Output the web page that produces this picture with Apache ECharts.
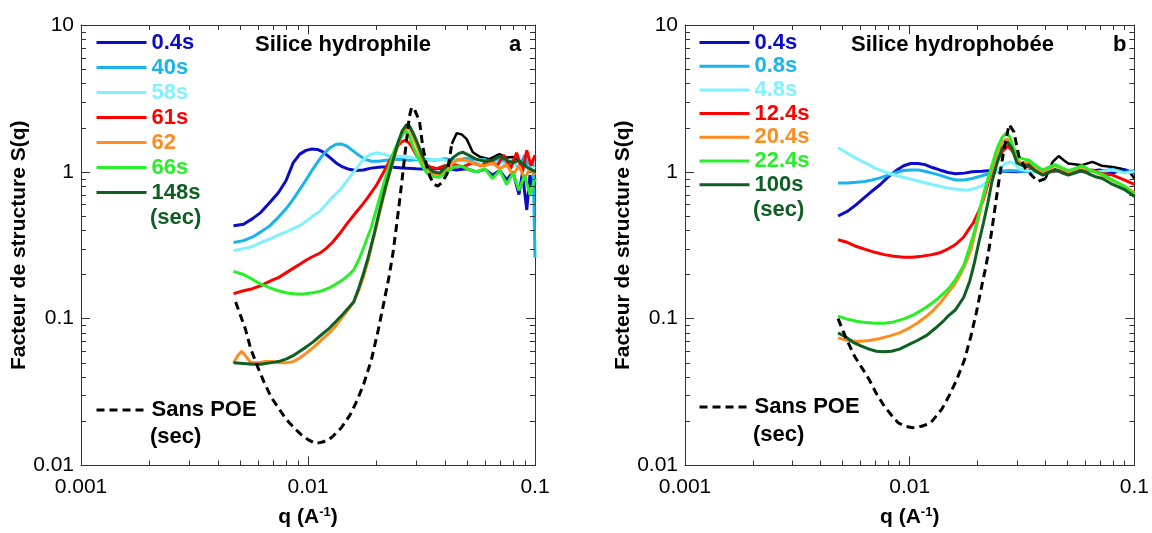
<!DOCTYPE html>
<html>
<head>
<meta charset="utf-8">
<script src="https://cdn.jsdelivr.net/npm/echarts@6/dist/echarts.min.js"></script>
<style>
html,body{margin:0;padding:0;background:#fff;}
#chart{width:1152px;height:533px;}
</style>
</head>
<body>
<div id="chart"></div>
<script>
// ---------------- DATA ----------------
const xTickLabels = ['0.001', '0.01', '0.1'];
const yTickLabels = ['0.01', '0.1', '1', '10'];
const xMinorTicks = [0.002,0.003,0.004,0.005,0.006,0.007,0.008,0.009,0.02,0.03,0.04,0.05,0.06,0.07,0.08,0.09];
const yMinorTicks = [0.02,0.03,0.04,0.05,0.06,0.07,0.08,0.09,0.2,0.3,0.4,0.5,0.6,0.7,0.8,0.9,2,3,4,5,6,7,8,9];

const leftNames = ['0.4s', '40s', '58s', '61s', '62', '66s', '148s'];
const rightNames = ['0.4s', '0.8s', '4.8s', '12.4s', '20.4s', '22.4s', '100s'];
const seriesColors = ['#0b0bc8', '#1ab4ec', '#80f2ff', '#ff0000', '#ff8c1e', '#29ef29', '#0d5f22'];
const titleLeft = 'Silice hydrophile';
const titleRight = 'Silice hydrophobée';

// Left panel (a) – Silice hydrophile
const left_04s = [[0.0047,0.43],[0.0052,0.44],[0.0057,0.48],[0.0062,0.53],[0.0068,0.62],[0.0074,0.72],[0.008,0.87],[0.0086,1.15],[0.0092,1.32],[0.0098,1.40],[0.0104,1.43],[0.011,1.42],[0.0117,1.36],[0.0125,1.25],[0.0133,1.15],[0.0142,1.08],[0.0152,1.04],[0.0162,1.02],[0.0175,1.03],[0.019,1.06],[0.021,1.08],[0.023,1.08],[0.026,1.06],[0.03,1.05],[0.035,1.04],[0.04,1.06],[0.045,1.03],[0.05,1.05],[0.055,1.0],[0.06,1.04],[0.065,0.95],[0.07,1.02],[0.075,0.88],[0.08,1.0],[0.085,0.7],[0.088,0.98],[0.092,0.55],[0.095,0.95],[0.098,0.75],[0.1,0.9]];
const left_40s = [[0.0047,0.33],[0.0052,0.34],[0.0057,0.36],[0.0062,0.39],[0.0068,0.43],[0.0074,0.49],[0.008,0.56],[0.0086,0.65],[0.0092,0.76],[0.0098,0.88],[0.0104,1.02],[0.011,1.16],[0.0117,1.32],[0.0125,1.46],[0.0133,1.54],[0.014,1.55],[0.0148,1.5],[0.0157,1.4],[0.0167,1.3],[0.0178,1.22],[0.019,1.18],[0.0205,1.18],[0.022,1.2],[0.025,1.22],[0.028,1.2],[0.032,1.22],[0.036,1.2],[0.04,1.23],[0.045,1.2],[0.05,1.24],[0.055,1.18],[0.06,1.22],[0.065,1.12],[0.07,1.25],[0.075,1.1],[0.08,1.2],[0.085,1.05],[0.09,1.3],[0.095,1.0],[0.098,1.2],[0.1,0.26]];
const left_58s = [[0.0047,0.29],[0.0052,0.30],[0.0057,0.31],[0.0062,0.33],[0.0068,0.35],[0.0074,0.37],[0.008,0.39],[0.0086,0.41],[0.0092,0.43],[0.0098,0.46],[0.0105,0.5],[0.0113,0.54],[0.012,0.6],[0.0128,0.67],[0.0138,0.75],[0.0147,0.85],[0.0156,0.96],[0.0164,1.06],[0.0172,1.17],[0.0181,1.27],[0.019,1.32],[0.0201,1.35],[0.0215,1.32],[0.0229,1.28],[0.025,1.27],[0.0272,1.27],[0.03,1.23],[0.034,1.2],[0.038,1.22],[0.042,1.18],[0.047,1.2],[0.052,1.15],[0.058,1.2],[0.064,1.12],[0.07,1.18],[0.076,1.08],[0.082,1.15],[0.088,1.0],[0.094,1.1],[0.1,1.05]];
const left_61s = [[0.0047,0.148],[0.0052,0.155],[0.0057,0.16],[0.0062,0.168],[0.0068,0.18],[0.0074,0.19],[0.008,0.205],[0.0086,0.22],[0.0092,0.235],[0.0098,0.25],[0.0105,0.265],[0.0113,0.28],[0.012,0.3],[0.0128,0.33],[0.0138,0.38],[0.0148,0.44],[0.0158,0.5],[0.0166,0.55],[0.0174,0.6],[0.0185,0.68],[0.0201,0.82],[0.0212,0.95],[0.0223,1.1],[0.0235,1.28],[0.0247,1.48],[0.0258,1.6],[0.0268,1.64],[0.0278,1.58],[0.0285,1.5],[0.03,1.3],[0.031,1.22],[0.033,1.12],[0.0345,1.08],[0.037,1.05],[0.04,1.1],[0.044,1.12],[0.048,1.08],[0.053,1.15],[0.058,1.1],[0.063,1.2],[0.068,1.1],[0.073,1.3],[0.078,1.05],[0.083,1.35],[0.088,1.0],[0.092,1.4],[0.096,1.1],[0.1,1.3]];
const left_62 = [[0.0047,0.05],[0.0049,0.056],[0.0051,0.06],[0.0053,0.056],[0.0056,0.05],[0.006,0.05],[0.0065,0.051],[0.007,0.051],[0.0075,0.05],[0.008,0.05],[0.0086,0.051],[0.0092,0.054],[0.0098,0.058],[0.0106,0.064],[0.0115,0.072],[0.0124,0.08],[0.0133,0.09],[0.0143,0.104],[0.0152,0.118],[0.0159,0.13],[0.0167,0.155],[0.0175,0.19],[0.0184,0.25],[0.0195,0.36],[0.0207,0.53],[0.022,0.78],[0.0235,1.12],[0.025,1.55],[0.026,1.8],[0.0272,1.98],[0.028,1.95],[0.029,1.75],[0.0302,1.5],[0.0318,1.22],[0.0334,1.05],[0.0355,0.97],[0.038,0.95],[0.041,1.05],[0.0435,1.15],[0.046,1.22],[0.05,1.2],[0.055,1.12],[0.06,1.1],[0.065,1.15],[0.07,1.05],[0.075,1.12],[0.08,0.95],[0.085,1.1],[0.09,0.9],[0.095,1.05],[0.1,0.95]];
const left_66s = [[0.0047,0.21],[0.0052,0.2],[0.0057,0.185],[0.0062,0.172],[0.0068,0.162],[0.0074,0.155],[0.008,0.15],[0.0088,0.147],[0.0096,0.147],[0.0105,0.15],[0.0114,0.154],[0.0124,0.162],[0.0133,0.172],[0.0143,0.185],[0.0152,0.2],[0.0159,0.215],[0.0169,0.26],[0.0178,0.32],[0.019,0.42],[0.0203,0.6],[0.0215,0.82],[0.0228,1.1],[0.024,1.4],[0.0252,1.65],[0.0264,1.85],[0.0272,1.88],[0.028,1.75],[0.029,1.5],[0.0302,1.3],[0.0318,1.1],[0.0334,0.98],[0.0355,0.93],[0.038,0.92],[0.041,1.0],[0.044,1.08],[0.047,1.1],[0.05,1.05],[0.055,1.0],[0.06,1.05],[0.065,0.9],[0.07,1.02],[0.075,0.82],[0.08,0.98],[0.085,0.75],[0.09,0.95],[0.095,0.7],[0.1,0.9]];
const left_148s = [[0.0047,0.05],[0.0052,0.0495],[0.0057,0.049],[0.0062,0.049],[0.0068,0.05],[0.0074,0.051],[0.008,0.053],[0.0086,0.056],[0.0092,0.06],[0.0098,0.064],[0.0106,0.07],[0.0115,0.078],[0.0124,0.086],[0.0133,0.096],[0.0143,0.108],[0.0152,0.12],[0.0159,0.13],[0.0167,0.16],[0.0175,0.2],[0.0184,0.26],[0.0195,0.37],[0.0207,0.55],[0.022,0.8],[0.0235,1.15],[0.025,1.6],[0.026,1.9],[0.0272,2.1],[0.028,2.05],[0.029,1.85],[0.0302,1.6],[0.0318,1.3],[0.0334,1.1],[0.0355,1.0],[0.038,0.98],[0.041,1.1],[0.0435,1.25],[0.046,1.33],[0.048,1.36],[0.051,1.3],[0.055,1.22],[0.06,1.18],[0.065,1.2],[0.07,1.28],[0.075,1.2],[0.08,1.15],[0.085,1.2],[0.09,1.1],[0.095,1.05],[0.1,1.0]];
const left_sansPOE = [[0.0048,0.13],[0.0053,0.085],[0.0056,0.062],[0.006,0.047],[0.0064,0.037],[0.0069,0.029],[0.0075,0.024],[0.008,0.0207],[0.0087,0.018],[0.0093,0.0163],[0.01,0.015],[0.0108,0.0141],[0.0117,0.0145],[0.0127,0.0155],[0.014,0.018],[0.0153,0.022],[0.0165,0.028],[0.0176,0.036],[0.019,0.052],[0.0204,0.084],[0.0215,0.125],[0.0227,0.19],[0.0236,0.27],[0.0245,0.42],[0.0254,0.66],[0.0263,1.05],[0.0272,1.67],[0.028,2.4],[0.0286,2.75],[0.0295,2.65],[0.031,2.2],[0.032,1.5],[0.0333,1.1],[0.0345,0.92],[0.036,0.82],[0.0373,0.8],[0.039,0.85],[0.041,0.97],[0.043,1.55]];
const left_sansPOE_tail = [[0.043,1.55],[0.0452,1.83],[0.0475,1.8],[0.05,1.67],[0.0532,1.36],[0.057,1.27],[0.063,1.22],[0.0697,1.32],[0.075,1.25],[0.08,1.26],[0.088,1.15],[0.098,1.05],[0.1,1.0]];

// Right panel (b) – Silice hydrophobée
const right_04s = [[0.0048,0.5],[0.0053,0.54],[0.0058,0.6],[0.0063,0.67],[0.0068,0.74],[0.0074,0.82],[0.008,0.92],[0.0087,1.02],[0.0094,1.1],[0.0101,1.14],[0.0109,1.14],[0.0117,1.12],[0.0126,1.07],[0.0136,1.03],[0.0148,0.99],[0.016,0.97],[0.0175,0.98],[0.019,1.0],[0.021,1.01],[0.023,1.02],[0.026,1.01],[0.03,1.0],[0.035,1.02],[0.04,1.0],[0.05,1.02],[0.06,1.0],[0.07,1.03],[0.08,0.98],[0.09,1.04],[0.1,0.98]];
const right_08s = [[0.0048,0.84],[0.0053,0.84],[0.0058,0.85],[0.0063,0.86],[0.0068,0.88],[0.0074,0.91],[0.008,0.95],[0.0087,0.99],[0.0094,1.02],[0.0101,1.03],[0.0109,1.03],[0.0117,1.01],[0.0126,0.98],[0.0136,0.95],[0.0148,0.91],[0.016,0.88],[0.0175,0.88],[0.019,0.9],[0.021,0.94],[0.023,0.98],[0.025,1.01],[0.028,1.02],[0.032,1.01],[0.036,1.0],[0.04,1.02],[0.05,1.0],[0.06,1.02],[0.07,1.0],[0.08,1.04],[0.09,0.99],[0.1,1.02]];
const right_48s = [[0.0048,1.46],[0.0052,1.36],[0.0056,1.27],[0.006,1.2],[0.0065,1.13],[0.007,1.06],[0.0076,1.01],[0.0082,0.97],[0.009,0.93],[0.0099,0.9],[0.0108,0.87],[0.0118,0.84],[0.013,0.81],[0.0145,0.78],[0.0162,0.76],[0.0179,0.75],[0.0195,0.77],[0.0212,0.81],[0.0228,0.9],[0.0242,1.0],[0.0255,1.08],[0.0268,1.14],[0.0282,1.17],[0.0295,1.12],[0.0306,1.05],[0.033,1.02],[0.037,1.0],[0.042,1.02],[0.05,1.0],[0.06,1.02],[0.07,1.0],[0.08,1.03],[0.09,0.98],[0.1,1.0]];
const right_124s = [[0.0048,0.345],[0.0053,0.33],[0.0058,0.31],[0.0064,0.295],[0.007,0.283],[0.0077,0.273],[0.0085,0.266],[0.0094,0.262],[0.0103,0.262],[0.0113,0.266],[0.0124,0.272],[0.0135,0.28],[0.0146,0.295],[0.016,0.32],[0.0174,0.36],[0.0184,0.41],[0.0192,0.45],[0.0203,0.54],[0.0213,0.65],[0.0226,0.9],[0.0242,1.17],[0.0259,1.38],[0.0274,1.5],[0.0287,1.38],[0.0306,1.14],[0.0337,1.08],[0.037,1.02],[0.04,0.98],[0.045,1.02],[0.05,0.98],[0.055,1.05],[0.06,1.0],[0.065,1.03],[0.07,0.98],[0.08,0.95],[0.09,0.88],[0.1,0.82]];
const right_204s = [[0.0048,0.074],[0.0053,0.071],[0.0059,0.07],[0.0066,0.071],[0.0073,0.073],[0.0081,0.076],[0.009,0.08],[0.0099,0.086],[0.0108,0.093],[0.0118,0.103],[0.0128,0.115],[0.0138,0.13],[0.0148,0.15],[0.0158,0.17],[0.0168,0.2],[0.0178,0.24],[0.0188,0.3],[0.0198,0.42],[0.0208,0.58],[0.022,0.82],[0.0232,1.02],[0.0245,1.35],[0.0258,1.6],[0.0272,1.67],[0.0285,1.45],[0.03,1.2],[0.0318,1.14],[0.0338,1.18],[0.036,1.08],[0.0391,1.0],[0.0415,1.05],[0.0444,1.1],[0.0475,1.05],[0.0508,1.0],[0.055,1.05],[0.0585,1.08],[0.0625,1.03],[0.0666,1.0],[0.072,0.95],[0.0815,0.86],[0.09,0.8],[0.1,0.72]];
const right_224s = [[0.0048,0.104],[0.0053,0.099],[0.0058,0.096],[0.0064,0.094],[0.007,0.093],[0.0077,0.093],[0.0085,0.095],[0.0095,0.1],[0.0105,0.107],[0.0119,0.12],[0.0132,0.135],[0.0149,0.16],[0.016,0.185],[0.0174,0.23],[0.0184,0.3],[0.0193,0.38],[0.0203,0.52],[0.0213,0.7],[0.0223,0.9],[0.0232,1.1],[0.0245,1.45],[0.0258,1.72],[0.0268,1.83],[0.0278,1.75],[0.029,1.45],[0.0306,1.25],[0.0322,1.22],[0.034,1.2],[0.0365,1.1],[0.0391,1.03],[0.042,1.08],[0.0444,1.12],[0.048,1.06],[0.0508,1.02],[0.055,1.06],[0.0585,1.1],[0.0625,1.04],[0.0666,1.0],[0.072,0.96],[0.08,0.88],[0.09,0.8],[0.1,0.7]];
const right_100s = [[0.0048,0.08],[0.0052,0.075],[0.0056,0.069],[0.0061,0.065],[0.0066,0.062],[0.0071,0.06],[0.0076,0.0595],[0.0083,0.06],[0.009,0.062],[0.0098,0.066],[0.0108,0.071],[0.0119,0.077],[0.013,0.086],[0.014,0.095],[0.0149,0.105],[0.016,0.115],[0.0174,0.14],[0.0185,0.18],[0.0194,0.24],[0.0203,0.33],[0.0213,0.45],[0.0223,0.62],[0.0232,0.85],[0.0245,1.15],[0.0258,1.45],[0.0272,1.6],[0.0285,1.45],[0.03,1.15],[0.0318,1.1],[0.0338,1.12],[0.036,1.02],[0.0391,0.95],[0.042,1.0],[0.0444,1.04],[0.048,0.98],[0.0508,0.95],[0.055,0.99],[0.0585,1.02],[0.0625,0.97],[0.0666,0.93],[0.072,0.9],[0.08,0.82],[0.09,0.76],[0.1,0.68]];
const right_sansPOE = [[0.0048,0.1],[0.0052,0.074],[0.0057,0.055],[0.0062,0.045],[0.0066,0.0385],[0.0071,0.031],[0.0077,0.0254],[0.0083,0.022],[0.0089,0.0195],[0.0096,0.0185],[0.0103,0.0181],[0.0113,0.0185],[0.0124,0.0195],[0.0139,0.0242],[0.015,0.03],[0.0162,0.0385],[0.0175,0.052],[0.0187,0.0755],[0.0198,0.11],[0.0208,0.16],[0.0216,0.21],[0.0224,0.28],[0.0233,0.42],[0.0243,0.66],[0.0253,1.0],[0.0263,1.43],[0.0277,2.1],[0.0291,1.87],[0.0306,1.28],[0.0328,1.05],[0.0353,0.93],[0.0371,0.86],[0.0402,0.9]];
const right_sansPOE_tail = [[0.0402,0.9],[0.0433,1.17],[0.046,1.28],[0.0485,1.2],[0.0508,1.14],[0.0585,1.11],[0.065,1.17],[0.0716,1.1],[0.08,1.08],[0.0875,1.05],[0.095,1.0],[0.1,0.9]];

const leftData = [left_04s, left_40s, left_58s, left_61s, left_62, left_66s, left_148s];
const rightData = [right_04s, right_08s, right_48s, right_124s, right_204s, right_224s, right_100s];

// ---------------- CHART ----------------
const FONT = '"Liberation Sans", Arial, Helvetica, sans-serif';
const AXIS_COLOR = '#333';
const grids = [
  {left: 81, top: 25, width: 454, height: 445},
  {left: 685, top: 25, width: 455, height: 445}
];

function xLabel(v) { return xTickLabels[Math.round(Math.log10(v)) + 3]; }
function yLabel(v) { return yTickLabels[Math.round(Math.log10(v)) + 2]; }

const xAxes = [], yAxes = [];
grids.forEach((g, gi) => {
  xAxes.push({
    type: 'log', logBase: 10, min: 0.001, max: 0.1, gridIndex: gi, position: 'bottom',
    axisLine: {show: true, lineStyle: {color: AXIS_COLOR, width: 1}},
    axisTick: {show: true, inside: true, length: 9, lineStyle: {color: AXIS_COLOR}},
    axisLabel: {show: true, formatter: xLabel, fontSize: 21, color: '#000', fontFamily: FONT, margin: 11},
    splitLine: {show: false},
    name: '{b|q (A}{s|-1}{b|)}', nameLocation: 'middle', nameGap: 40,
    nameTextStyle: {fontFamily: FONT, color: '#000', rich: {
      b: {fontSize: 21, fontWeight: 'bold', fontFamily: FONT, color: '#000', lineHeight: 24},
      s: {fontSize: 13, fontWeight: 'bold', fontFamily: FONT, color: '#000', verticalAlign: 'top', lineHeight: 14}
    }}
  });
  xAxes.push({
    type: 'log', logBase: 10, min: 0.001, max: 0.1, gridIndex: gi, position: 'top',
    axisLine: {show: true, lineStyle: {color: AXIS_COLOR, width: 1}},
    axisTick: {show: true, inside: true, length: 9, lineStyle: {color: AXIS_COLOR}},
    axisLabel: {show: false}, splitLine: {show: false}
  });
  yAxes.push({
    type: 'log', logBase: 10, min: 0.01, max: 10, gridIndex: gi, position: 'left',
    axisLine: {show: true, lineStyle: {color: AXIS_COLOR, width: 1}},
    axisTick: {show: true, inside: true, length: 9, lineStyle: {color: AXIS_COLOR}},
    axisLabel: {show: true, formatter: yLabel, fontSize: 21, color: '#000', fontFamily: FONT, margin: 7},
    splitLine: {show: false},
    name: 'Facteur de structure S(q)', nameLocation: 'middle', nameRotate: 90, nameGap: 44,
    nameTextStyle: {fontSize: 21, fontWeight: 'bold', fontFamily: FONT, color: '#000'}
  });
  yAxes.push({
    type: 'log', logBase: 10, min: 0.01, max: 10, gridIndex: gi, position: 'right',
    axisLine: {show: true, lineStyle: {color: AXIS_COLOR, width: 1}},
    axisTick: {show: true, inside: true, length: 9, lineStyle: {color: AXIS_COLOR}},
    axisLabel: {show: false}, splitLine: {show: false}
  });
});

function minorXRender(params, api) {
  const cs = params.coordSys;
  const p = api.coord([api.value(0), api.value(1)]);
  const x = Math.round(p[0]) + 0.5;
  const b = cs.y + cs.height, t = cs.y;
  const st = {stroke: AXIS_COLOR, lineWidth: 1};
  return {type: 'group', children: [
    {type: 'line', shape: {x1: x, y1: b, x2: x, y2: b - 5}, style: st},
    {type: 'line', shape: {x1: x, y1: t, x2: x, y2: t + 5}, style: st}
  ]};
}
function minorYRender(params, api) {
  const cs = params.coordSys;
  const p = api.coord([api.value(0), api.value(1)]);
  const y = Math.round(p[1]) + 0.5;
  const l = cs.x, r = cs.x + cs.width;
  const st = {stroke: AXIS_COLOR, lineWidth: 1};
  return {type: 'group', children: [
    {type: 'line', shape: {x1: l, y1: y, x2: l + 5, y2: y}, style: st},
    {type: 'line', shape: {x1: r, y1: y, x2: r - 5, y2: y}, style: st}
  ]};
}

const series = [];
function addPanel(gi, names, dataList, poe, poeTail) {
  names.forEach((n, i) => {
    series.push({
      type: 'line', name: n, xAxisIndex: gi * 2, yAxisIndex: gi * 2,
      data: dataList[i], symbol: 'none', showSymbol: false, silent: true,
      lineStyle: {width: 3, color: seriesColors[i]}, itemStyle: {color: seriesColors[i]},
      z: 2 + i
    });
  });
  series.push({
    type: 'line', name: 'Sans POE', xAxisIndex: gi * 2, yAxisIndex: gi * 2,
    data: poe, symbol: 'none', showSymbol: false, silent: true,
    lineStyle: {width: 3, color: '#000', type: [8, 5]}, itemStyle: {color: '#000'}, z: 10
  });
  series.push({
    type: 'line', name: 'Sans POE tail', xAxisIndex: gi * 2, yAxisIndex: gi * 2,
    data: poeTail, symbol: 'none', showSymbol: false, silent: true,
    lineStyle: {width: 2.5, color: '#000'}, itemStyle: {color: '#000'}, z: 1
  });
  series.push({
    type: 'custom', xAxisIndex: gi * 2, yAxisIndex: gi * 2, silent: true, z: 20,
    data: xMinorTicks.map(v => [v, 1]), renderItem: minorXRender
  });
  series.push({
    type: 'custom', xAxisIndex: gi * 2, yAxisIndex: gi * 2, silent: true, z: 20,
    data: yMinorTicks.map(v => [0.01, v]), renderItem: minorYRender
  });
}
addPanel(0, leftNames, leftData, left_sansPOE, left_sansPOE_tail);
addPanel(1, rightNames, rightData, right_sansPOE, right_sansPOE_tail);

const legendText = {fontSize: 22, fontWeight: 'bold', fontFamily: FONT, lineHeight: 20};
const hiddenSymbol = {color: 'rgba(0,0,0,0)', borderColor: 'rgba(0,0,0,0)', borderWidth: 0, opacity: 0};
function mkLegend(names, left, top, gap) {
  return {
    orient: 'vertical', left: left, top: top, padding: 0, itemGap: gap,
    itemWidth: 50, itemHeight: 14, selectedMode: false,
    textStyle: legendText, itemStyle: hiddenSymbol, lineStyle: {width: 3},
    data: names.map((n, i) => ({name: n, textStyle: {color: seriesColors[i]}}))
  };
}
function mkPoeLegend(left, top) {
  return {
    orient: 'vertical', left: left, top: top, padding: 0, itemGap: 0,
    itemWidth: 50, itemHeight: 14, selectedMode: false,
    textStyle: legendText, itemStyle: hiddenSymbol, lineStyle: {width: 3},
    data: [{name: 'Sans POE', textStyle: {color: '#000'}}]
  };
}

function txt(text, x, y, color) {
  return {type: 'text', x: x, y: y, silent: true, z: 30,
    style: {text: text, fill: color, font: 'bold 22px ' + FONT, align: 'left', verticalAlign: 'middle'}};
}

const option = {
  animation: false,
  backgroundColor: '#fff',
  grid: grids,
  xAxis: xAxes,
  yAxis: yAxes,
  legend: [
    mkLegend(leftNames, 95, 31.5, 3),
    mkLegend(rightNames, 698, 31.5, 1.7),
    mkPoeLegend(95, 399),
    mkPoeLegend(698, 396)
  ],
  graphic: [
    txt(titleLeft, 255, 45, '#000'),
    txt('a', 509, 45, '#000'),
    txt(titleRight, 851, 45, '#000'),
    txt('b', 1113, 45, '#000'),
    txt('(sec)', 150, 218, seriesColors[6]),
    txt('(sec)', 753, 210, seriesColors[6]),
    txt('(sec)', 150, 437, '#000'),
    txt('(sec)', 753, 435, '#000')
  ],
  series: series
};

const chart = echarts.init(document.getElementById('chart'), null, {renderer: 'canvas'});
chart.setOption(option);
</script>
</body>
</html>
